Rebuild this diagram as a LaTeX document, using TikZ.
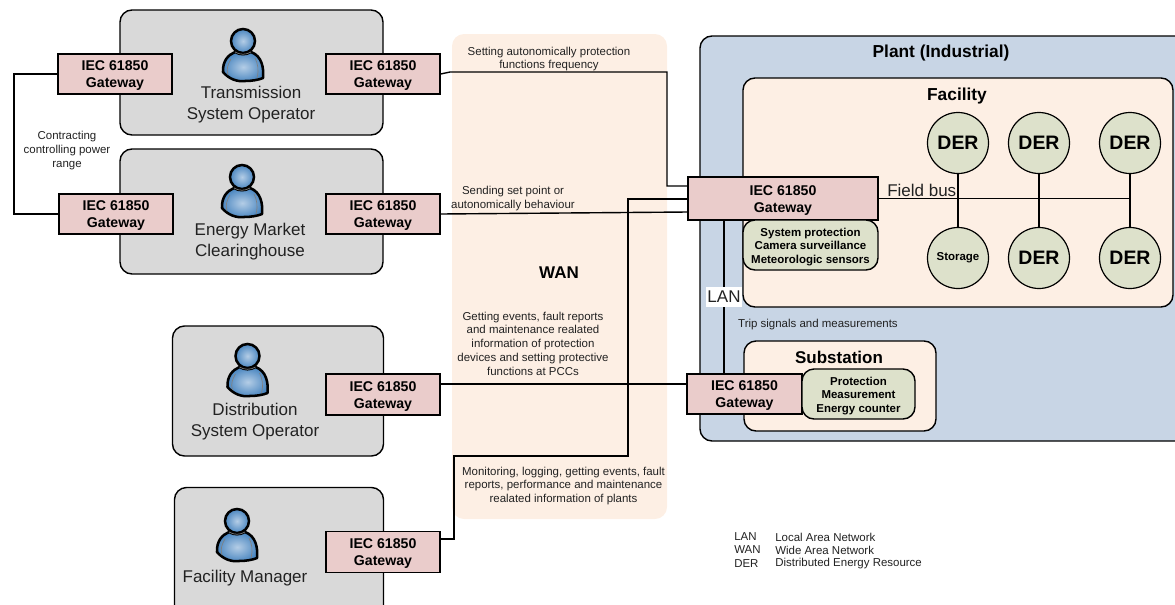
\documentclass[tikz,border=0pt]{standalone}
\usepackage{fontspec}
\setmainfont{Liberation Sans}
\definecolor{panelgray}{HTML}{D9D9D9}
\definecolor{gatepink}{HTML}{EACCCB}
\definecolor{dergreen}{HTML}{DDE1CB}
\definecolor{wanpeach}{HTML}{FDEFE4}
\definecolor{plantblue}{HTML}{C8D5E5}
\definecolor{textdark}{HTML}{222222}
\definecolor{personblue}{HTML}{4A86C0}
\definecolor{personlight}{HTML}{B4CDE6}
\def\pxu{0.75pt}
\newcommand{\personicon}[1]{
\begin{scope}[shift={(#1)}]
\draw[line width=1.9pt, line join=round, inner color=personlight, outer color=personblue] (-8,10) .. controls (-15,13) and (-20.5,19) .. (-20,30) .. controls (-14,37) and (-6,40) .. (2,39) .. controls (9,39) and (15,38) .. (20,36) .. controls (21,26) and (19,14) .. (8,10) .. controls (3,13) and (-3,13) .. (-8,10) -- cycle;
\draw[line width=1.9pt, inner color=personlight, outer color=personblue] (0,-1) circle (12);
\draw[gray, line width=0.5pt] (-15,33) .. controls (-17,27) and (-15,22) .. (-12,17);
\draw[gray, line width=0.5pt] (14,36) .. controls (16,28) and (15,22) .. (12,16);
\draw[gray, line width=0.5pt] (-8,10) .. controls (-3,13) and (3,13) .. (8,10);
\end{scope}
}
\tikzset{
panel/.style={draw, line width=1.05pt, rounded corners=9pt, fill=panelgray},
gateway/.style={draw, line width=1.05pt, fill=gatepink, align=center, inner sep=0pt, text height=23pt, font=\fontsize{10.6}{12.75}\selectfont\bfseries, minimum height=40*\pxu, minimum width=114*\pxu},
device/.style={draw, line width=1.05pt, fill=dergreen, rounded corners=9pt, align=center, inner sep=0pt, text height=29pt, font=\fontsize{8.6}{10.1}\selectfont\bfseries},
der/.style={draw, circle, line width=0.9pt, fill=dergreen, inner sep=0pt, minimum size=61*\pxu, font=\fontsize{14.6}{16}\selectfont\bfseries},
role/.style={align=center, text=textdark, font=\fontsize{12.75}{15.4}\selectfont},
note/.style={align=center, text=textdark, font=\fontsize{8.6}{10.3}\selectfont},
title/.style={align=center, font=\fontsize{12.75}{15}\selectfont\bfseries},
link/.style={line width=1.05pt}
}
\begin{document}
\begin{tikzpicture}[x=0.75pt, y=-0.75pt]
\clip (0,0) rectangle (1175,604);

\node[panel, minimum width=263*\pxu, minimum height=125*\pxu] (tso) at (251.5,72.5) {};
\node[panel, minimum width=263*\pxu, minimum height=125*\pxu] (emc) at (251.5,211.5) {};
\node[panel, minimum width=211*\pxu, minimum height=130*\pxu] (dso) at (278,391) {};
\node[panel, minimum width=209*\pxu, minimum height=135*\pxu] (fm) at (279,555) {};

\node[draw=none, fill=wanpeach, rounded corners=9pt, minimum width=215*\pxu, minimum height=485*\pxu] (wan) at (559.5,276.5) {};
\node[panel, fill=plantblue, minimum width=490*\pxu, minimum height=405*\pxu] (plant) at (945,238.5) {};
\node[panel, fill=wanpeach, minimum width=430*\pxu, minimum height=229*\pxu] (facility) at (958,192.5) {};
\node[panel, fill=wanpeach, minimum width=192*\pxu, minimum height=90*\pxu] (substation) at (840,386) {};

\coordinate (leftBus) at (14,144);
\coordinate (tsoKink) at (450,72);
\coordinate (tsoBend) at (667,72);
\coordinate (tsoIn) at (688,186);
\coordinate (emcIn) at (688,212);
\coordinate (dsoOut) at (440,384);
\coordinate (dsoIn) at (687,384);
\coordinate (fmOut) at (440,539);
\coordinate (fmBendA) at (454,539);
\coordinate (fmKnee) at (454,456);
\coordinate (fmBendB) at (628,456);
\coordinate (fmIn) at (688,199);
\coordinate (lanTop) at (724,220);
\coordinate (lanBot) at (724,374);
\coordinate (busEnd) at (1130,198.5);

\draw[link] (dsoOut) -- (dsoIn);
\draw[link] (fmOut) -- (fmBendA) -- (fmKnee) -- (fmBendB) |- (fmIn);
\draw[link] (lanTop) -- (lanBot);

\node[gateway] (gwTsoL) at (115,74) {IEC 61850\\Gateway};
\node[gateway] (gwTsoR) at (383,74) {IEC 61850\\Gateway};
\node[gateway] (gwEmcL) at (116,214) {IEC 61850\\Gateway};
\node[gateway] (gwEmcR) at (383,214) {IEC 61850\\Gateway};
\node[gateway, minimum height=41*\pxu] (gwDso) at (383,394.5) {IEC 61850\\Gateway};
\node[gateway, minimum height=41*\pxu] (gwFm) at (383,552) {IEC 61850\\Gateway};
\node[gateway, minimum width=190*\pxu, minimum height=43*\pxu] (gwPlant) at (783,198.5) {IEC 61850\\Gateway};
\node[gateway, minimum width=115*\pxu, minimum height=40*\pxu] (gwSub) at (744.5,394) {IEC 61850\\Gateway};

\node[device, minimum width=135*\pxu, minimum height=50*\pxu] (sysdev) at (810.5,245) {System protection\\Camera surveillance\\Meteorologic sensors};
\node[device, minimum width=113*\pxu, minimum height=50*\pxu] (protdev) at (858.5,394) {Protection\\Measurement\\Energy counter};

\node[der] (derA) at (958,143) {DER};
\node[der] (derB) at (1039,143) {DER};
\node[der] (derC) at (1130,143) {DER};
\node[der, font=\fontsize{8.6}{10}\selectfont\bfseries] (storage) at (958,258) {Storage};
\node[der] (derD) at (1039,258) {DER};
\node[der] (derE) at (1130,258) {DER};

\draw[link] (gwTsoL.west) -| (leftBus) |- (gwEmcL.west);
\draw[link] (gwTsoR.east) -- (tsoKink) -- (tsoBend) |- (tsoIn);
\draw[link] (gwEmcR.east) -- (emcIn);
\draw[link] (gwPlant.east) -- (busEnd);
\draw[link] (derA) -- (storage);
\draw[link] (derB) -- (derD);
\draw[link] (derC) -- (derE);

\personicon{243,42}
\personicon{242,178}
\personicon{247.5,357}
\personicon{237,522}

\node[role] (tsoText) at (251,104.5) {Transmission\\System Operator};
\node[role] (emcText) at (250,241.5) {Energy Market\\Clearinghouse};
\node[role] (dsoText) at (255,421.5) {Distribution\\System Operator};
\node[role] (fmText) at (245,578) {Facility Manager};

\node[note] (contractText) at (67,150.5) {Contracting\\controlling power\\range};
\node[note] (settingText) at (549,59) {Setting autonomically protection\\functions frequency};
\node[note] (sendingText) at (513,198.5) {Sending set point or\\autonomically behaviour};
\node[note] (gettingText) at (533,343.5) {Getting events, fault reports\\and maintenance realated\\information of protection\\devices and setting protective\\functions at PCCs};
\node[note] (monitorText) at (563.5,486) {Monitoring, logging, getting events, fault\\reports, performance and maintenance\\realated information of plants};
\node[note, anchor=west] (tripText) at (733.5,325) {Trip signals and measurements};
\node[title] (wanText) at (559,273) {WAN};
\node[title, font=\fontsize{13}{15}\selectfont\bfseries] (plantText) at (941,53) {Plant (Industrial)};
\node[title, font=\fontsize{13}{15}\selectfont\bfseries] (facilityText) at (957,96) {Facility};
\node[title] (subText) at (839,357.5) {Substation};
\node[fill=white, inner sep=1pt, minimum height=20*\pxu, font=\fontsize{12.75}{15}\selectfont, text=textdark] (lanText) at (724,296.5) {LAN};
\node[anchor=west, inner sep=0pt, font=\fontsize{12.75}{15}\selectfont, text=textdark] (busText) at (887,190) {Field bus};

\node[note, anchor=west, inner sep=0pt] (legA) at (734,537) {LAN};
\node[note, anchor=west, inner sep=0pt] (legB) at (734,550) {WAN};
\node[note, anchor=west, inner sep=0pt] (legC) at (734,564) {DER};
\node[note, anchor=west, inner sep=0pt] (legD) at (775,537) {Local Area Network};
\node[note, anchor=west, inner sep=0pt] (legE) at (775,550) {Wide Area Network};
\node[note, anchor=west, inner sep=0pt] (legF) at (775,564) {Distributed Energy Resource};
\end{tikzpicture}
\end{document}
